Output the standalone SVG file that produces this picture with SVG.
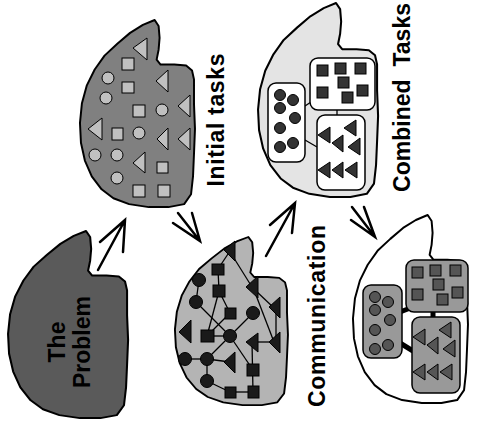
<svg xmlns="http://www.w3.org/2000/svg" xmlns:xlink="http://www.w3.org/1999/xlink" width="478" height="436" viewBox="0 0 478 436">
<style>
.blob{stroke:#000;stroke-width:2;stroke-linejoin:round;vector-effect:non-scaling-stroke}
.lbl{font-family:"Liberation Sans",Arial,sans-serif;font-weight:bold;font-size:23px;fill:#000;text-anchor:middle;white-space:pre}
.arrow{stroke:#000;stroke-width:2.5;fill:none;stroke-linecap:round}
.it{fill:#c0c0c0;stroke:#000;stroke-width:1}
.cm{fill:#1a1a1a;stroke:#000;stroke-width:1}
.link{stroke:#000;stroke-width:1.3;fill:none}
.thick{stroke:#000;stroke-width:5;fill:none}
.box{stroke:#000;stroke-width:1.5}
</style>
<defs>
<path id="blobShape" d="M78,0 L82,6 L83,18 L82,30 L80,40 L84,45 L98,45 L110,46 L116,51 L118,60 L118,85 L119,110 L118,135 L117,158 L115,176 L108,186 L92,189 L72,189 L52,186 L36,180 L24,171 L14,158 L7,142 L3,124 L2,104 L4,84 L9,66 L17,50 L27,36 L40,24 L53,13 L66,5 Z"/>
<g id="sq7" stroke="#000" stroke-width="1">
<rect x="317" y="65" width="11" height="11"/>
<rect x="335" y="63" width="11" height="11"/>
<rect x="355" y="63" width="11" height="11"/>
<rect x="338" y="77" width="11" height="11"/>
<rect x="317" y="87" width="11" height="11"/>
<rect x="342" y="92" width="11" height="11"/>
<rect x="357" y="85" width="11" height="11"/>
</g>
<g id="ci7" stroke="#000" stroke-width="1">
<circle cx="280" cy="95" r="5.5"/>
<circle cx="293" cy="100" r="5.5"/>
<circle cx="280" cy="108" r="5.5"/>
<circle cx="295" cy="118" r="5.5"/>
<circle cx="280" cy="128" r="5.5"/>
<circle cx="280" cy="147" r="5.5"/>
<circle cx="293" cy="143" r="5.5"/>
</g>
<g id="tr7" stroke="#000" stroke-width="1" stroke-linejoin="round">
<polygon points="318,135 330,127 330,143"/>
<polygon points="344,128 356,120 356,136"/>
<polygon points="332,143 343,135 343,152"/>
<polygon points="348,147 360,138 360,155"/>
<polygon points="318,170 330,162 330,178"/>
<polygon points="332,170 343,162 343,178"/>
<polygon points="345,170 357,162 357,178"/>
</g>
</defs>

<g id="problem">
<use xlink:href="#blobShape" class="blob" fill="#5a5a5a" transform="translate(6,231) scale(1.026,0.99)"/>
<text class="lbl" transform="translate(65,342) rotate(-90)">The</text>
<text class="lbl" transform="translate(90,342) rotate(-90)">Problem</text>
</g>

<g id="initial">
<use xlink:href="#blobShape" class="blob" fill="#808080" transform="translate(78,20) scale(0.983,0.99)"/>
<polygon class="it" points="133,48 147,38 147,60"/>
<polygon class="it" points="156,81 168,70 168,92"/>
<polygon class="it" points="178,106 190,95 190,117"/>
<polygon class="it" points="88,129 102,118 102,140"/>
<polygon class="it" points="157,139 168,128 168,150"/>
<polygon class="it" points="178,139 190,128 190,150"/>
<polygon class="it" points="133,163 145,152 145,173"/>
<rect class="it" x="122" y="58" width="12" height="12"/>
<rect class="it" x="122" y="82" width="12" height="11"/>
<rect class="it" x="133" y="105" width="12" height="12"/>
<rect class="it" x="112" y="128" width="11" height="12"/>
<rect class="it" x="157" y="162" width="11" height="11"/>
<rect class="it" x="133" y="185" width="12" height="12"/>
<rect class="it" x="158" y="185" width="12" height="12"/>
<circle class="it" cx="108" cy="78" r="6"/>
<circle class="it" cx="106" cy="98" r="6"/>
<circle class="it" cx="162" cy="110" r="6"/>
<circle class="it" cx="139" cy="133" r="6"/>
<circle class="it" cx="95" cy="155" r="6"/>
<circle class="it" cx="117" cy="155" r="6"/>
<circle class="it" cx="117" cy="178" r="6"/>
<text class="lbl" transform="translate(224,120) rotate(-90)" textLength="133">Initial tasks</text>
</g>

<g id="communication">
<use xlink:href="#blobShape" class="blob" fill="#b4b4b4" transform="translate(173,237) scale(0.966,0.889)"/>
<g class="link">
<line x1="230" y1="251" x2="218" y2="269"/>
<line x1="232" y1="255" x2="252" y2="287"/>
<line x1="255" y1="290" x2="274" y2="308"/>
<line x1="254" y1="290" x2="274" y2="342"/>
<line x1="276" y1="310" x2="276" y2="342"/>
<line x1="252" y1="342" x2="274" y2="342"/>
<line x1="252" y1="342" x2="253" y2="392"/>
<line x1="218" y1="269" x2="219" y2="291"/>
<line x1="219" y1="291" x2="207" y2="336"/>
<line x1="219" y1="291" x2="230" y2="313"/>
<line x1="230" y1="313" x2="207" y2="336"/>
<line x1="199" y1="280" x2="196" y2="302"/>
<line x1="196" y1="302" x2="230" y2="336"/>
<line x1="230" y1="336" x2="253" y2="370"/>
<line x1="207" y1="336" x2="230" y2="336"/>
<line x1="230" y1="336" x2="253" y2="313"/>
<line x1="230" y1="336" x2="207" y2="359"/>
<line x1="185" y1="359" x2="207" y2="359"/>
<line x1="207" y1="359" x2="230" y2="362"/>
<line x1="207" y1="359" x2="207" y2="381"/>
<line x1="207" y1="381" x2="230" y2="392"/>
<line x1="230" y1="392" x2="253" y2="392"/>
</g>
<polygon class="cm" points="224,250 235,241 235,261"/>
<polygon class="cm" points="246,287 258,276 258,298"/>
<polygon class="cm" points="269,307 280,297 280,318"/>
<polygon class="cm" points="179,332 191,320 191,343"/>
<polygon class="cm" points="246,342 258,333 258,352"/>
<polygon class="cm" points="269,342 280,332 280,353"/>
<polygon class="cm" points="224,362 235,352 235,373"/>
<rect class="cm" x="212" y="264" width="12" height="11"/>
<rect class="cm" x="213" y="285" width="12" height="12"/>
<rect class="cm" x="225" y="308" width="11" height="11"/>
<rect class="cm" x="201" y="330" width="13" height="12"/>
<rect class="cm" x="247" y="364" width="12" height="12"/>
<rect class="cm" x="225" y="387" width="11" height="11"/>
<rect class="cm" x="248" y="386" width="11" height="12"/>
<circle class="cm" cx="199" cy="280" r="6.5"/>
<circle class="cm" cx="196" cy="302" r="6.5"/>
<circle class="cm" cx="253" cy="313" r="6.5"/>
<circle class="cm" cx="230" cy="336" r="6.5"/>
<circle class="cm" cx="185" cy="359" r="6.5"/>
<circle class="cm" cx="207" cy="359" r="6.5"/>
<circle class="cm" cx="207" cy="381" r="6.5"/>
<text class="lbl" transform="translate(325,316) rotate(-90)" textLength="182">Communication</text>
</g>

<g id="combined">
<use xlink:href="#blobShape" class="blob" fill="#e4e4e4" transform="translate(256,3) scale(1.026,1.026)"/>
<g class="link">
<line x1="305" y1="106" x2="311" y2="102"/>
<line x1="305" y1="140" x2="317" y2="147"/>
<line x1="337" y1="110" x2="337" y2="116"/>
</g>
<rect class="box" fill="#fff" x="310" y="58" width="65" height="52" rx="8"/>
<rect class="box" fill="#fff" x="268" y="83" width="37" height="79" rx="8"/>
<rect class="box" fill="#fff" x="317" y="115" width="48" height="75" rx="8"/>
<use xlink:href="#sq7" fill="#333"/>
<use xlink:href="#ci7" fill="#333"/>
<use xlink:href="#tr7" fill="#333"/>
<text class="lbl" transform="translate(410,97.5) rotate(-90)" textLength="189">Combined  Tasks</text>
</g>

<g id="mapped">
<use xlink:href="#blobShape" class="blob" fill="#fff" transform="translate(351,215) scale(0.983,0.995)"/>
<g transform="translate(95,202)">
<g class="thick">
<line x1="305" y1="110" x2="318" y2="105"/>
<line x1="305" y1="141" x2="318" y2="149"/>
<line x1="338" y1="108" x2="338" y2="117"/>
</g>
<rect class="box" fill="#999" x="311" y="58" width="62" height="52" rx="8"/>
<rect class="box" fill="#999" x="268" y="83" width="39" height="73" rx="8"/>
<rect class="box" fill="#999" x="317" y="115" width="48" height="76" rx="8"/>
<use xlink:href="#sq7" fill="#555"/>
<use xlink:href="#ci7" fill="#555"/>
<use xlink:href="#tr7" fill="#555"/>
</g>
</g>

<g id="connectors">
<path class="arrow" d="M98,270 L125,220 M100,242 L125,220 L123,252"/>
<path class="arrow" d="M178,213 L200,241 M173,223 L200,241 L192,213"/>
<path class="arrow" d="M266,256 L295,203 M270,225 L295,203 L292,233"/>
<path class="arrow" d="M352,207 L375,237 M351,220 L375,237 L364,207"/>
</g>
</svg>
